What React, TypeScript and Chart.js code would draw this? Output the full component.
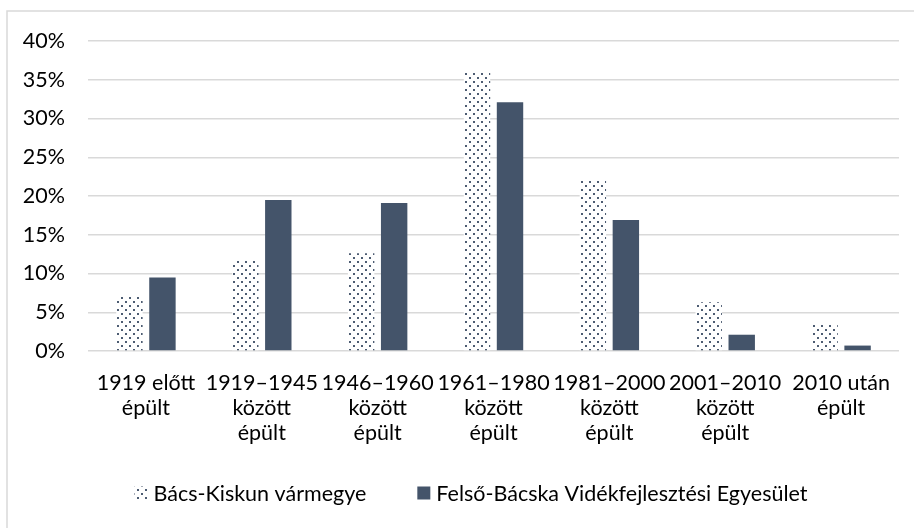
import React, { useEffect, useRef } from "react";
import { Chart, registerables } from "chart.js";

Chart.register(...registerables);

const categories: string[][] = [
  ["1919 előtt", "épült"],
  ["1919–1945", "között", "épült"],
  ["1946–1960", "között", "épült"],
  ["1961–1980", "között", "épült"],
  ["1981–2000", "között", "épült"],
  ["2001–2010", "között", "épült"],
  ["2010 után", "épült"],
];
const seriesNames = ["Bács-Kiskun vármegye", "Felső-Bácska Vidékfejlesztési Egyesület"];
const bacsKiskun = [7.2, 11.6, 12.6, 35.9, 22.2, 6.3, 3.6];
const felsoBacska = [9.5, 19.5, 19.1, 32.1, 16.9, 2.1, 0.7];
const yMin = 0;
const yMax = 40;
const yStep = 5;

const DARK = "#44546a";
const FONT = "Lato";
const FONT_SIZE = 21.5;

function makeDotPattern(): CanvasPattern | string {
  const c = document.createElement("canvas");
  c.width = 8;
  c.height = 8;
  const g = c.getContext("2d");
  if (!g) return DARK;
  g.fillStyle = "#ffffff";
  g.fillRect(0, 0, 8, 8);
  g.fillStyle = "#4d5c72";
  g.fillRect(1, 1, 2, 2);
  g.fillRect(5, 5, 2, 2);
  const p = g.createPattern(c, "repeat");
  return p || DARK;
}

export default function App() {
  const ref = useRef<HTMLCanvasElement | null>(null);

  useEffect(() => {
    document.body.style.margin = "0";
    const canvas = ref.current;
    if (!canvas) return;
    const pattern = makeDotPattern();

    const framePlugin = {
      id: "frame",
      beforeDraw(chart: any) {
        const ctx = chart.ctx;
        ctx.save();
        ctx.fillStyle = "#ffffff";
        ctx.fillRect(0, 0, chart.width, chart.height);
        ctx.strokeStyle = "#d9d9d9";
        ctx.lineWidth = 1.5;
        ctx.beginPath();
        ctx.moveTo(7, chart.height + 2);
        ctx.lineTo(7, 11);
        ctx.lineTo(chart.width + 2, 11);
        ctx.stroke();
        ctx.restore();
      },
    };

    const legendPlugin = {
      id: "customLegend",
      afterDraw(chart: any) {
        const ctx = chart.ctx;
        const box = 13;
        const textGap = 6;
        const itemGap = 51;
        const centerX = 471;
        const centerY = 493;
        ctx.save();
        ctx.font = `${FONT_SIZE}px ${FONT}`;
        ctx.textBaseline = "middle";
        ctx.textAlign = "left";
        const ds = chart.data.datasets;
        const widths = ds.map((d: any) => ctx.measureText(d.label).width);
        let total = 0;
        widths.forEach((w: number, i: number) => {
          total += box + textGap + w + (i < widths.length - 1 ? itemGap : 0);
        });
        let x = centerX - total / 2;
        ds.forEach((d: any, i: number) => {
          ctx.fillStyle = d.backgroundColor;
          ctx.fillRect(x, centerY - box / 2, box, box);
          x += box + textGap;
          ctx.fillStyle = "#000000";
          ctx.fillText(d.label, x, centerY + 1);
          x += widths[i] + itemGap;
        });
        ctx.restore();
      },
    };

    const chart = new Chart(canvas, {
      type: "bar",
      data: {
        labels: categories,
        datasets: [
          {
            label: seriesNames[0],
            data: bacsKiskun,
            backgroundColor: pattern as any,
            borderWidth: 0,
            categoryPercentage: 0.57,
            barPercentage: 0.8,
          },
          {
            label: seriesNames[1],
            data: felsoBacska,
            backgroundColor: DARK,
            borderWidth: 0,
            categoryPercentage: 0.57,
            barPercentage: 0.8,
          },
        ],
      },
      options: {
        animation: false,
        responsive: false,
        maintainAspectRatio: false,
        devicePixelRatio: 1,
        layout: { padding: { top: 41, right: 15, left: 0, bottom: 0 } },
        plugins: {
          title: { display: false },
          tooltip: { enabled: false },
          legend: { display: false },
        },
        scales: {
          x: {
            grid: { display: false, drawTicks: false },
            border: { display: false },
            ticks: {
              color: "#000000",
              padding: 20,
              maxRotation: 0,
              autoSkip: false,
              font: { family: FONT, size: FONT_SIZE, lineHeight: 25 / FONT_SIZE },
            },
            afterFit(scale: any) {
              scale.height = 528 - 351;
            },
          },
          y: {
            min: yMin,
            max: yMax,
            grid: { color: "#d9d9d9", lineWidth: 1.5, drawTicks: false },
            border: { display: false },
            ticks: {
              stepSize: yStep,
              color: "#000000",
              padding: 23,
              font: { family: FONT, size: FONT_SIZE },
              callback: (v: any) => `${v}%`,
            },
            afterFit(scale: any) {
              scale.width = 88;
            },
          },
        },
      },
      plugins: [framePlugin, legendPlugin],
    });

    return () => chart.destroy();
  }, []);

  return (
    <div style={{ position: "absolute", left: 0, top: 0, width: 914, height: 528 }}>
      <canvas ref={ref} width={914} height={528} style={{ width: 914, height: 528, display: "block" }} />
    </div>
  );
}
